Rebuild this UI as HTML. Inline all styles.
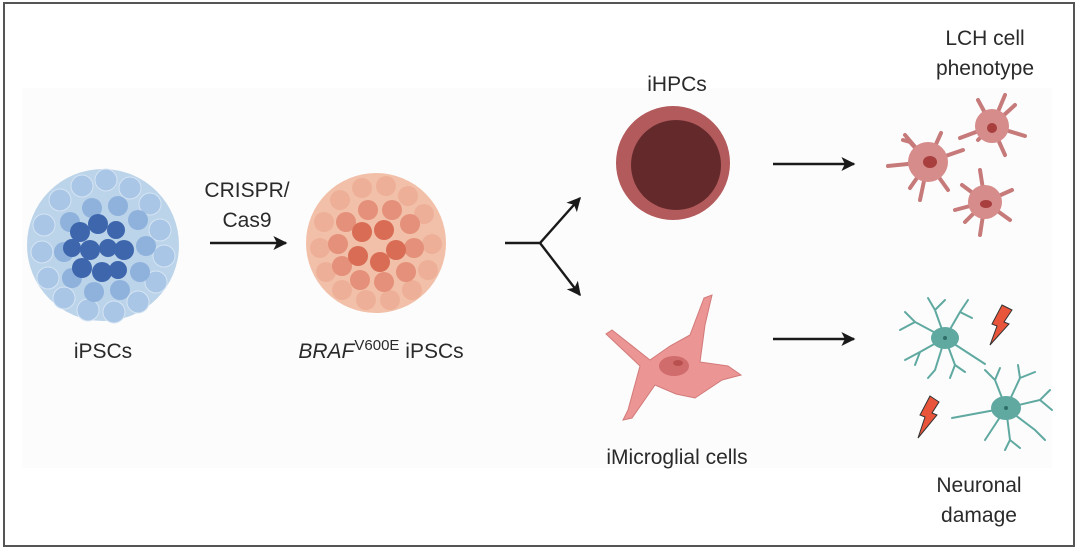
<!DOCTYPE html>
<html><head><meta charset="utf-8"><style>
html,body{margin:0;padding:0;background:#fff}
svg{display:block}
text{font-family:"Liberation Sans",sans-serif;fill:#2a2a2a}
</style></head><body>
<svg width="1080" height="551" viewBox="0 0 1080 551" xmlns="http://www.w3.org/2000/svg">
<defs>
<marker id="ah" viewBox="0 0 10 10" refX="9" refY="5" markerWidth="16" markerHeight="14" orient="auto" markerUnits="userSpaceOnUse">
<path d="M0,0 L10,5 L0,10 L2.5,5 Z" fill="#1a1a1a"/></marker>
</defs>
<rect x="4" y="3" width="1070" height="543" fill="#fff" stroke="#555" stroke-width="2"/>
<rect x="22" y="88" width="1030" height="380" fill="#fcfcfc"/>

<!-- iPSC colony -->
<g>
<circle cx="103" cy="245" r="76" fill="#bcd4ea"/>
<g fill="#a9c6e6" stroke="#d5e4f3" stroke-width="1">
<circle cx="60" cy="200" r="11"/><circle cx="82" cy="186" r="11"/><circle cx="106" cy="180" r="11"/><circle cx="130" cy="188" r="11"/><circle cx="150" cy="204" r="11"/>
<circle cx="44" cy="225" r="11"/><circle cx="42" cy="252" r="11"/><circle cx="48" cy="278" r="11"/><circle cx="64" cy="298" r="11"/><circle cx="88" cy="310" r="11"/><circle cx="114" cy="312" r="11"/><circle cx="138" cy="302" r="11"/><circle cx="156" cy="282" r="11"/><circle cx="164" cy="256" r="11"/><circle cx="160" cy="230" r="11"/>
</g>
<g fill="#8fb2dc">
<circle cx="70" cy="222" r="10"/><circle cx="92" cy="208" r="10"/><circle cx="118" cy="206" r="10"/><circle cx="138" cy="220" r="10"/><circle cx="146" cy="246" r="10"/><circle cx="140" cy="272" r="10"/><circle cx="120" cy="290" r="10"/><circle cx="94" cy="292" r="10"/><circle cx="72" cy="278" r="10"/><circle cx="64" cy="252" r="10"/>
</g>
<g fill="#3d66ad">
<circle cx="80" cy="232" r="10"/><circle cx="98" cy="224" r="10"/><circle cx="116" cy="230" r="9"/><circle cx="124" cy="250" r="10"/><circle cx="108" cy="248" r="9"/><circle cx="90" cy="250" r="10"/><circle cx="72" cy="248" r="9"/><circle cx="82" cy="268" r="10"/><circle cx="102" cy="272" r="10"/><circle cx="118" cy="270" r="9"/>
</g>
</g>

<!-- BRAF colony -->
<g>
<circle cx="376" cy="243" r="70" fill="#f2c0a8"/>
<g fill="#eeaf98">
<circle cx="340" cy="200" r="10"/><circle cx="362" cy="188" r="10"/><circle cx="386" cy="186" r="10"/><circle cx="408" cy="196" r="10"/><circle cx="424" cy="214" r="10"/>
<circle cx="324" cy="222" r="10"/><circle cx="320" cy="248" r="10"/><circle cx="326" cy="272" r="10"/><circle cx="342" cy="290" r="10"/><circle cx="366" cy="300" r="10"/><circle cx="390" cy="300" r="10"/><circle cx="412" cy="290" r="10"/><circle cx="428" cy="270" r="10"/><circle cx="432" cy="244" r="10"/>
</g>
<g fill="#e4907a">
<circle cx="346" cy="222" r="10"/><circle cx="368" cy="210" r="10"/><circle cx="392" cy="210" r="10"/><circle cx="410" cy="224" r="10"/><circle cx="414" cy="248" r="10"/><circle cx="406" cy="272" r="10"/><circle cx="384" cy="282" r="10"/><circle cx="360" cy="280" r="10"/><circle cx="342" cy="266" r="10"/><circle cx="338" cy="244" r="10"/>
</g>
<g fill="#d86c55">
<circle cx="362" cy="232" r="10"/><circle cx="384" cy="230" r="10"/><circle cx="396" cy="250" r="10"/><circle cx="380" cy="262" r="10"/><circle cx="358" cy="256" r="10"/>
</g>
</g>

<!-- arrows -->
<g stroke="#1a1a1a" stroke-width="2.4" fill="none">
<line x1="210" y1="243" x2="286" y2="243" marker-end="url(#ah)"/>
<path d="M505,243 L540,243 L580,198" marker-end="url(#ah)"/>
<path d="M540,243 L580,295" marker-end="url(#ah)"/>
<line x1="773" y1="164" x2="854" y2="164" marker-end="url(#ah)"/>
<line x1="773" y1="339" x2="854" y2="339" marker-end="url(#ah)"/>
</g>

<!-- iHPC -->
<circle cx="673" cy="163" r="57" fill="#b35a5c"/>
<circle cx="676" cy="165" r="45" fill="#642a2b"/>

<!-- Microglia -->
<g fill="#eb9594" stroke="#d27a7a" stroke-width="1">
<path d="M650,360 L612,330 L606,334 L640,366 L628,410 L623,420 L632,418 L655,385 L676,394 L695,398 L722,380 L741,375 L728,366 L700,362 L705,325 L712,295 L704,298 L690,335 L670,346 Z"/>
</g>
<ellipse cx="674" cy="366" rx="15" ry="10" fill="#d06c6c"/>
<ellipse cx="678" cy="363" rx="5" ry="3" fill="#b85050"/>

<!-- LCH cells -->
<g stroke="#c67a7a" stroke-width="4" stroke-linecap="round" fill="none">
<path d="M928,162 L888,166 M928,162 L905,135 M928,162 L910,142 L903,140 M928,162 L941,133 M928,162 L963,150 M928,162 L948,190 M928,162 L920,200 M928,162 L910,188"/>
<path d="M992,126 L978,100 M992,126 L1005,95 M992,126 L1015,105 M992,126 L1025,136 M992,126 L1005,155 M992,126 L978,140 M992,126 L960,138"/>
<path d="M985,202 L980,170 M985,202 L1012,190 M985,202 L1010,220 M985,202 L980,235 M985,202 L955,210 M985,202 L965,222 M985,202 L962,185"/>
</g>
<g fill="#d58c8a"><circle cx="928" cy="162" r="20"/><circle cx="992" cy="126" r="17"/><circle cx="985" cy="202" r="17"/></g>
<g fill="#a83e3e"><ellipse cx="930" cy="162" rx="7" ry="6"/><ellipse cx="992" cy="128" rx="5" ry="5"/><ellipse cx="986" cy="204" rx="6" ry="4"/></g>

<!-- Neurons -->
<g stroke="#5fa9a0" stroke-width="2" stroke-linecap="round" fill="none">
<path d="M945,338 L985,364 M945,338 L915,322 L905,312 M915,322 L900,330 M945,338 L920,352 L905,360 M920,352 L915,365 M945,338 L935,310 L928,298 M935,310 L945,300 M945,338 L960,312 L968,300 M960,312 L972,318 M945,338 L955,365 L950,378 M955,365 L965,372 M945,338 L935,370 L928,378"/>
<path d="M1006,408 L952,418 M1006,408 L995,380 L985,370 M995,380 L1000,368 M1006,408 L1020,378 L1018,365 M1020,378 L1035,372 M1006,408 L1040,400 L1050,390 M1040,400 L1052,410 M1006,408 L1035,430 L1045,440 M1006,408 L1010,440 L1005,450 M1010,440 L1020,448 M1006,408 L985,440"/>
</g>
<g fill="#5fa9a0"><ellipse cx="945" cy="338" rx="14" ry="11"/><ellipse cx="1006" cy="408" rx="15" ry="12"/></g>
<g fill="#2f6e66"><circle cx="945" cy="338" r="2"/><circle cx="1006" cy="408" r="2"/></g>
<g fill="#e8553a" stroke="#333" stroke-width="1">
<path d="M1002,305 L1012,310 L1004,322 L1009,324 L990,345 L997,326 L992,324 Z"/>
<path d="M930,396 L939,402 L932,413 L937,415 L918,438 L925,417 L920,415 Z"/>
</g>

<!-- labels -->
<g font-size="21" text-anchor="middle">
<text x="103" y="358">iPSCs</text>
<text x="247" y="197">CRISPR/</text>
<text x="247" y="227">Cas9</text>
<text x="381" y="358"><tspan font-style="italic">BRAF</tspan><tspan font-size="15" dy="-8">V600E</tspan><tspan dy="8"> iPSCs</tspan></text>
<text x="677" y="91">iHPCs</text>
<text x="985" y="45">LCH cell</text>
<text x="985" y="75">phenotype</text>
<text x="677" y="464">iMicroglial cells</text>
<text x="979" y="492">Neuronal</text>
<text x="979" y="522">damage</text>
</g>
</svg>
</body></html>
